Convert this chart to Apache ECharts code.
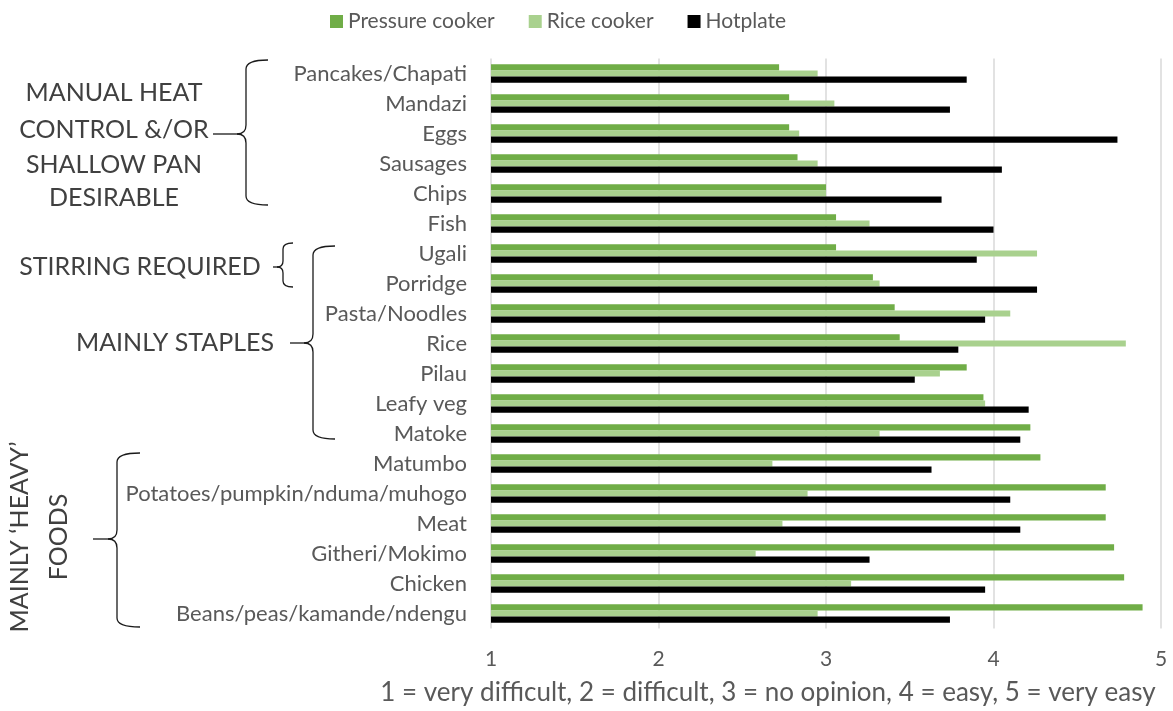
<!DOCTYPE html>
<html>
<head>
<meta charset="utf-8">
<title>Ease of cooking by appliance</title>
<script src="https://cdn.jsdelivr.net/npm/echarts@6/dist/echarts.min.js"></script>
<style>
  html, body { margin: 0; padding: 0; background: #ffffff; }
  #chart { width: 1173px; height: 711px; }
</style>
</head>
<body>
<div id="chart"></div>
<script>
// Foods, top to bottom
const foods = [
  'Pancakes/Chapati', 'Mandazi', 'Eggs', 'Sausages', 'Chips', 'Fish',
  'Ugali', 'Porridge', 'Pasta/Noodles', 'Rice', 'Pilau', 'Leafy veg',
  'Matoke', 'Matumbo', 'Potatoes/pumpkin/nduma/muhogo', 'Meat',
  'Githeri/Mokimo', 'Chicken', 'Beans/peas/kamande/ndengu'
];

// Mean ease rating (1 = very difficult ... 5 = very easy)
const pressureCooker = [2.72, 2.78, 2.78, 2.83, 3.00, 3.06, 3.06, 3.28, 3.41, 3.44, 3.84, 3.94, 4.22, 4.28, 4.67, 4.67, 4.72, 4.78, 4.89];
const riceCooker     = [2.95, 3.05, 2.84, 2.95, 3.00, 3.26, 4.26, 3.32, 4.10, 4.79, 3.68, 3.95, 3.32, 2.68, 2.89, 2.74, 2.58, 3.15, 2.95];
const hotplate       = [3.84, 3.74, 4.74, 4.05, 3.69, 4.00, 3.90, 4.26, 3.95, 3.79, 3.53, 4.21, 4.16, 3.63, 4.10, 4.16, 3.26, 3.95, 3.74];

const seriesNames = ['Pressure cooker', 'Rice cooker', 'Hotplate'];
const scaleTitle = '1 = very difficult, 2 = difficult, 3 = no opinion, 4 = easy, 5 = very easy';

const FONT = 'Lato, "Noto Sans", sans-serif';
const GREY = '#595959';
const NOTE = '#404040';
const STROKE = { stroke: '#1a1a1a', lineWidth: 1.3, fill: null };

// Left curly brace built from straight and quadratic segments:
// vertical stroke at vx from y1 to y2, arms reaching right to ex, point at (tx, ym)
function brace(vx, y1, y2, ex, tx, ym, r) {
  const curve = (x1, y1_, cx, cy, x2, y2_) => ({
    type: 'bezierCurve',
    shape: { x1: x1, y1: y1_, x2: x2, y2: y2_, cpx1: cx, cpy1: cy },
    style: STROKE, silent: true
  });
  const line = (x1, y1_, x2, y2_) => ({
    type: 'line',
    shape: { x1: x1, y1: y1_, x2: x2, y2: y2_ },
    style: STROKE, silent: true
  });
  return {
    type: 'group',
    silent: true,
    children: [
      curve(ex, y1, vx, y1, vx, y1 + r),
      line(vx, y1 + r, vx, ym - r),
      curve(vx, ym - r, vx, ym, vx - r, ym),
      line(vx - r, ym, tx, ym),
      curve(vx - r, ym, vx, ym, vx, ym + r),
      line(vx, ym + r, vx, y2 - r),
      curve(vx, y2 - r, vx, y2, ex, y2)
    ]
  };
}

function note(text, x, y, rotation) {
  return {
    type: 'text',
    x: x, y: y,
    rotation: rotation || 0,
    style: {
      text: text, fill: NOTE, font: '25px ' + FONT,
      textAlign: 'center', textVerticalAlign: 'middle'
    },
    silent: true
  };
}

const chart = echarts.init(document.getElementById('chart'), null, { renderer: 'canvas' });

chart.setOption({
  animation: false,
  backgroundColor: '#ffffff',
  color: ['#70AD47', '#A9D18E', '#000000'],
  textStyle: { fontFamily: FONT },
  legend: {
    data: seriesNames,
    top: 6,
    left: 325,
    itemWidth: 13,
    itemHeight: 13,
    itemGap: 34,
    icon: 'rect',
    textStyle: { color: GREY, fontSize: 21, fontFamily: FONT }
  },
  grid: { left: 491, right: 12, top: 58.5, bottom: 82.5, containLabel: false },
  xAxis: {
    type: 'value',
    min: 1, max: 5, interval: 1,
    axisLine: { show: false },
    axisTick: { show: false },
    axisLabel: { color: GREY, fontSize: 21, fontFamily: FONT, margin: 20 },
    splitLine: { show: true, lineStyle: { color: '#d9d9d9', width: 1.5 } }
  },
  yAxis: {
    type: 'category',
    data: foods,
    inverse: true,
    axisLine: { show: false },
    axisTick: { show: false },
    axisLabel: { color: GREY, fontSize: 22, fontFamily: FONT, margin: 24, interval: 0 }
  },
  series: [
    { name: seriesNames[0], type: 'bar', data: pressureCooker, barGap: '0%', barCategoryGap: '38%', clip: true },
    { name: seriesNames[1], type: 'bar', data: riceCooker, barGap: '0%', barCategoryGap: '38%', clip: true },
    { name: seriesNames[2], type: 'bar', data: hotplate, barGap: '0%', barCategoryGap: '38%', clip: true }
  ],
  graphic: [
    {
      type: 'text', x: 768, y: 693,
      style: { text: scaleTitle, fill: GREY, font: '26px ' + FONT, textAlign: 'center', textVerticalAlign: 'middle' },
      silent: true
    },
    note('MANUAL HEAT', 114, 93),
    note('CONTROL &/OR', 114, 130),
    note('SHALLOW PAN', 114, 165),
    note('DESIRABLE', 114, 198),
    brace(246, 60, 205, 268, 213, 134, 9),
    note('STIRRING REQUIRED', 140, 267),
    brace(283, 243, 287, 293, 273, 267, 6),
    note('MAINLY STAPLES', 175, 343),
    brace(313, 246, 439, 335, 290, 343, 9),
    note('MAINLY \u2018HEAVY\u2019', 20, 537, Math.PI / 2),
    note('FOODS', 59, 537, Math.PI / 2),
    brace(117, 453, 627, 140, 93, 539, 9)
  ]
});
</script>
</body>
</html>
